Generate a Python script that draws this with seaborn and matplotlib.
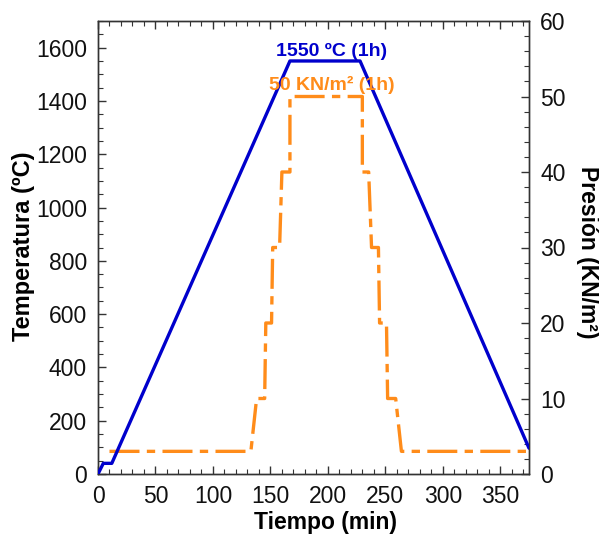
import matplotlib
matplotlib.use("Agg")
import matplotlib.pyplot as plt
from matplotlib.ticker import MultipleLocator
import seaborn as sns
import pandas as pd

# Temperature profile (min, ºC)
temp_time = [0, 4.6, 12, 167, 228, 375]
temp_vals = [0, 40, 40, 1550, 1550, 97]

# Pressure profile (min, KN/m2)
pres_time = [10, 133, 138, 145, 146, 151, 152, 158, 160, 167, 167,
             230, 230, 235.5, 238, 244, 245, 251, 252, 259, 264, 375]
pres_vals = [3, 3, 10, 10, 20, 20, 30, 30, 40, 40, 50,
             50, 40, 40, 30, 30, 20, 20, 10, 10, 3, 3]

x_ticks = [0, 50, 100, 150, 200, 250, 300, 350]
y_ticks = [0, 200, 400, 600, 800, 1000, 1200, 1400, 1600]
y2_ticks = [0, 10, 20, 30, 40, 50, 60]

sns.set_style("ticks")
plt.rcParams['font.family'] = ['Liberation Sans', 'DejaVu Sans']
plt.rcParams['text.color'] = 'black'
plt.rcParams['axes.labelcolor'] = 'black'

BLUE = "#0000CC"
ORANGE = "#FF8C1A"
FS = 16.5

fig = plt.figure(figsize=(5.99, 5.36), dpi=100)
ax = fig.add_axes([98/599, 1-474/536, (529-98)/599, (474-21)/536])
ax2 = ax.twinx()

df_t = pd.DataFrame({"t": temp_time, "T": temp_vals})
df_p = pd.DataFrame({"t": pres_time, "P": pres_vals})

sns.lineplot(data=df_t, x="t", y="T", ax=ax, color=BLUE, lw=2.4,
             sort=False, estimator=None, zorder=3)
sns.lineplot(data=df_p, x="t", y="P", ax=ax2, color=ORANGE, lw=2.4,
             sort=False, estimator=None, dashes=False)
ax2.lines[0].set_dashes([9, 2.2, 2.5, 2.2])
ax2.lines[0].set_dash_capstyle('butt')
ax.set_zorder(ax2.get_zorder() + 1)
ax.patch.set_visible(False)

ax.set_xlim(0, 375)
ax.set_ylim(0, 1700)
ax2.set_ylim(0, 60)
ax.set_xticks(x_ticks)
ax.set_yticks(y_ticks)
ax2.set_yticks(y2_ticks)
ax.xaxis.set_minor_locator(MultipleLocator(10))
ax.yaxis.set_minor_locator(MultipleLocator(50))
ax2.yaxis.set_minor_locator(MultipleLocator(2))

for a in (ax, ax2):
    for s in a.spines.values():
        s.set_color("#333333")
        s.set_linewidth(1.0)
    a.tick_params(which="major", direction="in", length=6, width=1, color="#333333",
                  labelsize=FS, labelcolor="#111111", pad=8)
    a.tick_params(which="minor", direction="in", length=3.5, width=0.8, color="#333333")
ax.tick_params(axis="x", which="both", top=True)
ax.tick_params(axis="x", which="major", pad=8)
ax.tick_params(axis="y", which="both", right=False)
ax2.tick_params(axis="y", which="both", left=False, right=True)

ax.set_xlabel("Tiempo (min)", fontsize=FS, fontweight="bold")
ax.xaxis.set_label_coords((325 - 98) / 431, -(522 - 474) / 453, transform=ax.transAxes)
ax.xaxis.label.set_va("center")
ax.set_ylabel("Temperatura (ºC)", fontsize=17, fontweight="bold")
ax.yaxis.set_label_coords(-(98 - 23) / 431, (474 - 246) / 453, transform=ax.transAxes)
ax.yaxis.label.set_va("center")
ax2.set_ylabel("Presión (KN/m²)", fontsize=FS, fontweight="bold",
               rotation=270)
ax2.yaxis.set_label_coords((587 - 98) / 431, (474 - 252) / 453, transform=ax2.transAxes)
ax2.yaxis.label.set_va("center")

ax.text(203.5, 1586, "1550 ºC (1h)", color=BLUE, fontsize=14, fontweight="bold",
        ha="center", va="center")
ax.text(203.5, 51.5, "50 KN/m² (1h)", color=ORANGE, fontsize=14,
        fontweight="bold", ha="center", va="center",
        transform=ax2.transData)

fig.savefig("out.png", dpi=100)
